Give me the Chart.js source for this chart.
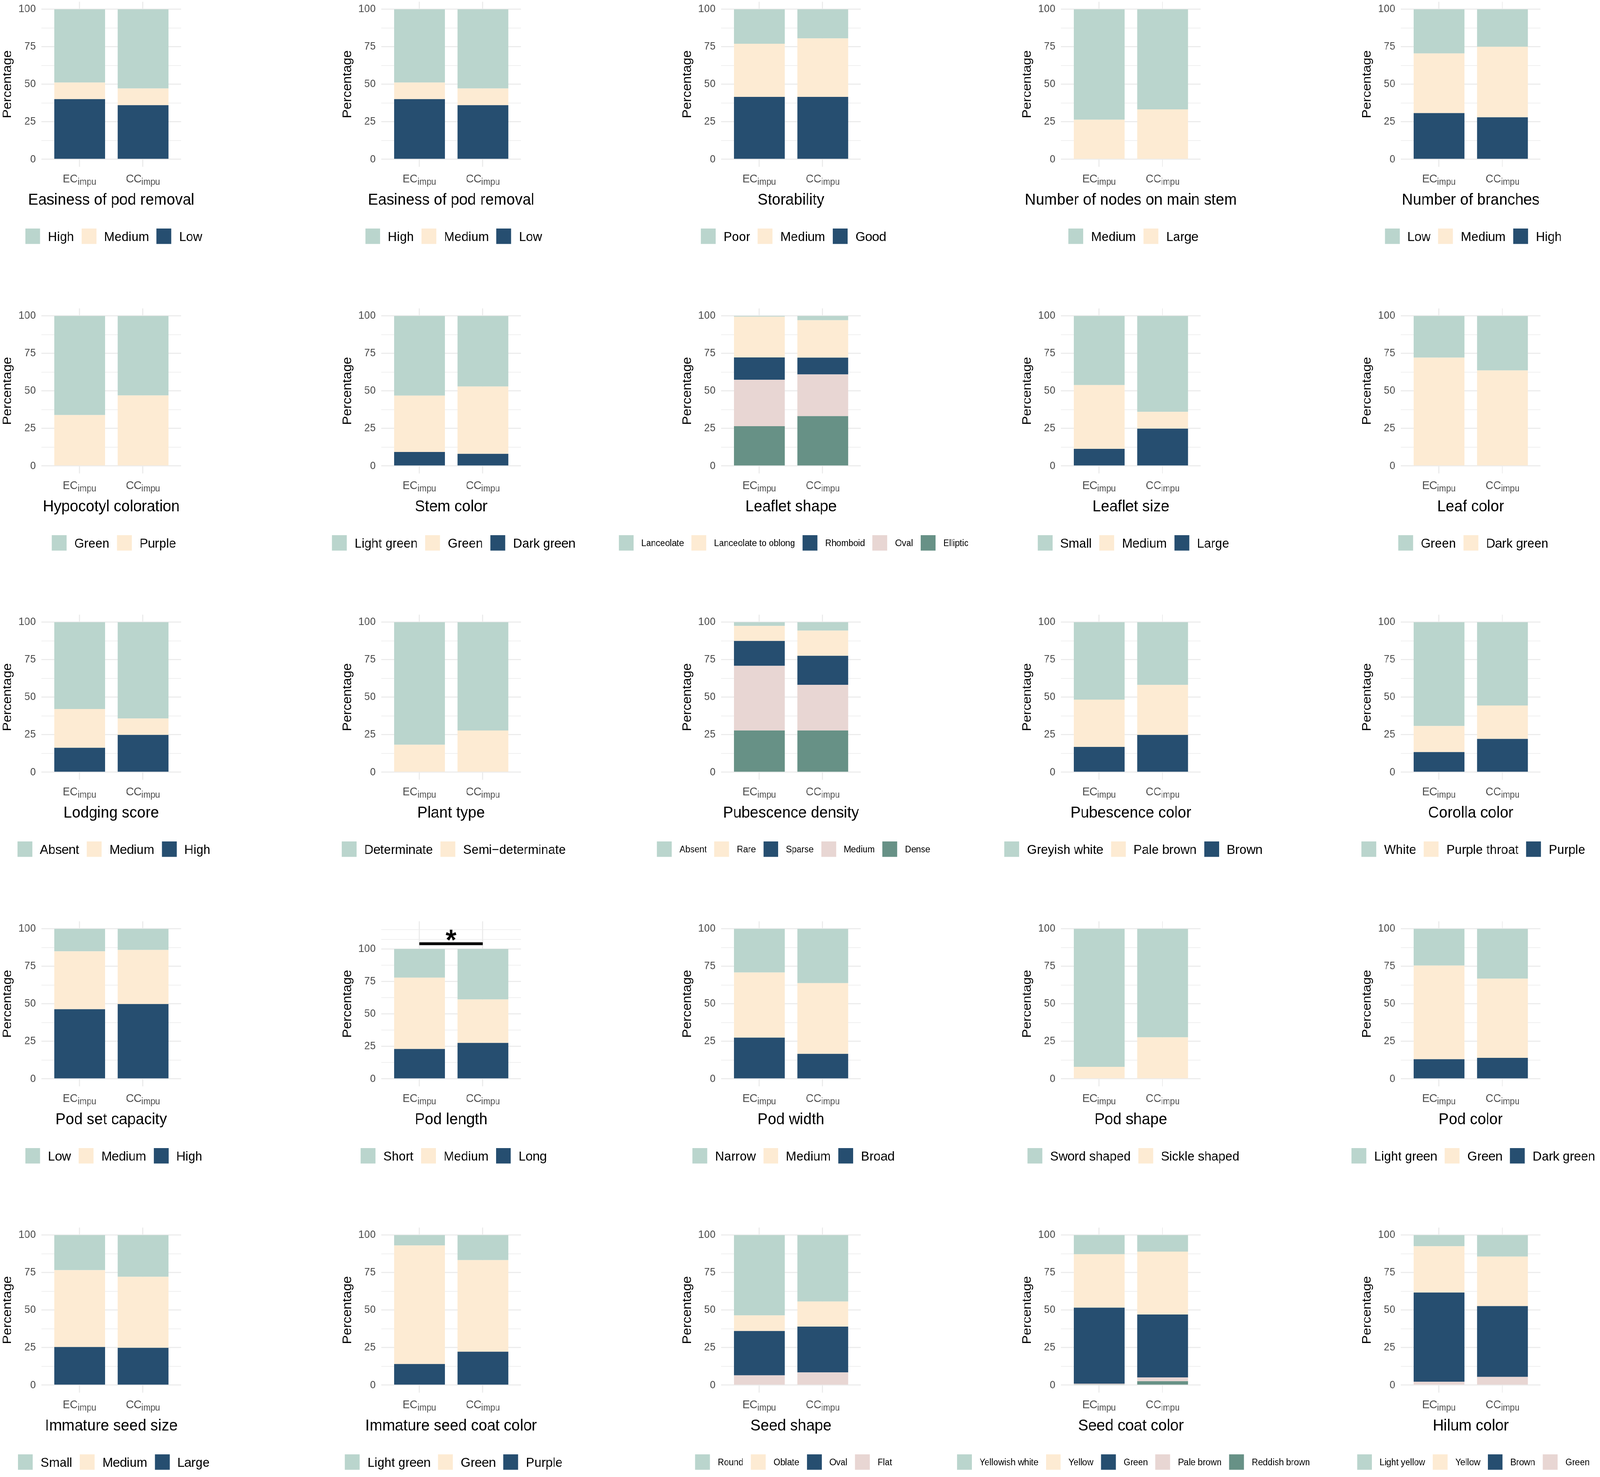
<!DOCTYPE html>
<html>
<head>
<meta charset="utf-8">
<script src="https://cdn.jsdelivr.net/npm/chart.js@4.4.1/dist/chart.umd.min.js"></script>
<style>
html,body{margin:0;padding:0;background:#ffffff;overflow:hidden;}
#wrap{position:absolute;left:0;top:0;width:4317px;height:3781px;overflow:hidden;background:#ffffff;transform-origin:0 0;}
canvas{position:absolute;}
</style>
</head>
<body>
<div id="wrap"></div>
<script>
// ---------------- DATA ----------------
const categories = ['EC', 'CC'];
const categorySub = 'impu';
const yTickValues = [0, 25, 50, 75, 100];

const titles = [
  'Easiness of pod removal', 'Easiness of pod removal', 'Storability', 'Number of nodes on main stem', 'Number of branches',
  'Hypocotyl coloration', 'Stem color', 'Leaflet shape', 'Leaflet size', 'Leaf color',
  'Lodging score', 'Plant type', 'Pubescence density', 'Pubescence color', 'Corolla color',
  'Pod set capacity', 'Pod length', 'Pod width', 'Pod shape', 'Pod color',
  'Immature seed size', 'Immature seed coat color', 'Seed shape', 'Seed coat color', 'Hilum color'
];

// legend order (top of the stack first)
const legendLabels = [
  ['High', 'Medium', 'Low'],
  ['High', 'Medium', 'Low'],
  ['Poor', 'Medium', 'Good'],
  ['Medium', 'Large'],
  ['Low', 'Medium', 'High'],
  ['Green', 'Purple'],
  ['Light green', 'Green', 'Dark green'],
  ['Lanceolate', 'Lanceolate to oblong', 'Rhomboid', 'Oval', 'Elliptic'],
  ['Small', 'Medium', 'Large'],
  ['Green', 'Dark green'],
  ['Absent', 'Medium', 'High'],
  ['Determinate', 'Semi\u2212determinate'],
  ['Absent', 'Rare', 'Sparse', 'Medium', 'Dense'],
  ['Greyish white', 'Pale brown', 'Brown'],
  ['White', 'Purple throat', 'Purple'],
  ['Low', 'Medium', 'High'],
  ['Short', 'Medium', 'Long'],
  ['Narrow', 'Medium', 'Broad'],
  ['Sword shaped', 'Sickle shaped'],
  ['Light green', 'Green', 'Dark green'],
  ['Small', 'Medium', 'Large'],
  ['Light green', 'Green', 'Purple'],
  ['Round', 'Oblate', 'Oval', 'Flat'],
  ['Yellowish white', 'Yellow', 'Green', 'Pale brown', 'Reddish brown'],
  ['Light yellow', 'Yellow', 'Brown', 'Green']
];

// percentages for EC_impu, same order as legendLabels
const ecValues = [
  [48.8, 11.1, 40.1],
  [48.8, 11.1, 40.1],
  [23.0, 35.4, 41.6],
  [73.6, 26.4],
  [29.4, 39.8, 30.8],
  [66.1, 33.9],
  [53.1, 37.6, 9.3],
  [0.5, 27.2, 14.9, 30.9, 26.5],
  [46.1, 42.5, 11.4],
  [27.8, 72.2],
  [57.9, 25.8, 16.3],
  [81.7, 18.3],
  [2.5, 10.0, 16.6, 43.1, 27.8],
  [51.6, 31.5, 16.9],
  [69.2, 17.4, 13.4],
  [15.0, 38.6, 46.4],
  [22.1, 54.9, 23.0],
  [29.1, 43.4, 27.5],
  [92.0, 8.0],
  [24.5, 62.4, 13.1],
  [23.4, 51.2, 25.4],
  [6.9, 79.0, 14.1],
  [53.5, 10.4, 29.6, 6.5],
  [12.8, 35.6, 50.6, 0.5, 0.5],
  [7.4, 30.9, 59.5, 2.2]
];

// percentages for CC_impu, same order as legendLabels
const ccValues = [
  [52.8, 11.1, 36.1],
  [52.8, 11.1, 36.1],
  [19.4, 39.0, 41.6],
  [66.7, 33.3],
  [25.0, 47.0, 28.0],
  [53.0, 47.0],
  [47.1, 44.8, 8.1],
  [2.9, 24.9, 11.2, 27.8, 33.2],
  [63.9, 11.2, 24.9],
  [36.3, 63.7],
  [64.2, 10.9, 24.9],
  [72.2, 27.8],
  [5.6, 16.8, 19.4, 30.4, 27.8],
  [41.8, 33.3, 24.9],
  [55.5, 22.3, 22.2],
  [14.1, 36.0, 49.9],
  [38.9, 33.4, 27.7],
  [36.2, 47.1, 16.7],
  [72.3, 27.7],
  [33.2, 52.8, 14.0],
  [27.8, 47.3, 24.9],
  [16.7, 61.0, 22.3],
  [44.3, 16.7, 30.5, 8.5],
  [11.0, 41.9, 42.0, 2.5, 2.6],
  [14.3, 33.0, 47.2, 5.5]
];

// significance annotation (Pod length)
const sigPanels = [16];
const sigLabel = '*';
const sigBarValue = 104.0;
const sigStarValue = 110.6;
const sigAxisTop = 115.5;
const sigExtraGrid = [107.5, 115];

// ---------------- STYLE / LAYOUT ----------------
const palette = ['#bad5cd', '#fdebd3', '#264e70', '#e8d6d3', '#679186'];
const smallLegendPanels = [7, 12, 22, 23, 24];
const FONT = '"Liberation Sans", Arial, Helvetica, sans-serif';
const FIG_W = 4317, FIG_H = 3781;
const COL_W = 917, ROW_H = 784.6, M = 250;
const PLOT_L = 111.7, PLOT_R = 488.6, AREA_TOP = 4.5, AREA_BOT = 427;

// fit the figure into the actual viewport
const wrap = document.getElementById('wrap');
const sx = Math.min(1, (window.innerWidth || FIG_W) / FIG_W);
const sy = Math.min(1, (window.innerHeight || FIG_H) / FIG_H);
wrap.style.transform = 'scale(' + sx + ',' + sy + ')';

function decor(idx) {
  return {
    id: 'decor',
    afterDraw(chart) {
      const ctx = chart.ctx, xs = chart.scales.x, ys = chart.scales.y, ca = chart.chartArea;
      const cx = (ca.left + ca.right) / 2;
      ctx.save();
      // x category labels with subscript
      ctx.textAlign = 'left';
      ctx.textBaseline = 'alphabetic';
      ctx.fillStyle = '#4d4d4d';
      categories.forEach((c, i) => {
        const px = xs.getPixelForValue(i + 1);
        ctx.font = '29px ' + FONT;
        const w1 = ctx.measureText(c).width;
        ctx.font = '23px ' + FONT;
        const w2 = ctx.measureText(categorySub).width;
        const x0 = px - (w1 + w2) / 2;
        ctx.font = '29px ' + FONT;
        ctx.fillText(c, x0, 466.5);
        ctx.font = '23px ' + FONT;
        ctx.fillText(categorySub, x0 + w1, 472.5);
      });
      // panel title
      ctx.fillStyle = '#000000';
      ctx.textAlign = 'center';
      ctx.font = '41px ' + FONT;
      ctx.fillText(titles[idx], cx, 524);
      // legend
      const fs = smallLegendPanels.includes(idx) ? 23.5 : 34;
      ctx.font = fs + 'px ' + FONT;
      ctx.textAlign = 'left';
      const labels = legendLabels[idx];
      const widths = labels.map(l => ctx.measureText(l).width);
      const total = widths.reduce((a, w) => a + 40 + 21 + w, 0) + 20.5 * (labels.length - 1);
      let x = cx + 7 - total / 2;
      labels.forEach((l, k) => {
        ctx.fillStyle = palette[k];
        ctx.fillRect(x, 585, 40, 39.5);
        ctx.fillStyle = '#000000';
        ctx.fillText(l, x + 61, 604.75 + 0.358 * fs);
        x += 40 + 21 + widths[k] + 20.5;
      });
      // significance bar
      if (sigPanels.includes(idx)) {
        const x1 = xs.getPixelForValue(1), x2 = xs.getPixelForValue(2);
        const yb = ys.getPixelForValue(sigBarValue);
        ctx.strokeStyle = '#000000';
        ctx.lineWidth = 7.3;
        ctx.lineCap = 'butt';
        ctx.beginPath();
        ctx.moveTo(x1, yb);
        ctx.lineTo(x2, yb);
        ctx.stroke();
        ctx.font = 'bold 74px ' + FONT;
        ctx.textAlign = 'center';
        const m = ctx.measureText(sigLabel);
        const yc = ys.getPixelForValue(sigStarValue);
        ctx.fillText(sigLabel, (x1 + x2) / 2, yc + (m.actualBoundingBoxAscent - m.actualBoundingBoxDescent) / 2);
      }
      ctx.restore();
    }
  };
}

titles.forEach((t, idx) => {
  const r = Math.floor(idx / 5), c = idx % 5;
  const W = Math.round(COL_W + 2 * M), H = 785;
  const cv = document.createElement('canvas');
  cv.width = W; cv.height = H;
  cv.style.width = W + 'px'; cv.style.height = H + 'px';
  cv.style.left = Math.round(c * COL_W - M) + 'px';
  cv.style.top = Math.round(r * ROW_H) + 'px';
  wrap.appendChild(cv);

  const labels = legendLabels[idx];
  const datasets = [];
  for (let k = labels.length - 1; k >= 0; k--) {
    datasets.push({
      label: labels[k],
      data: [{ x: 1, y: ecValues[idx][k] }, { x: 2, y: ccValues[idx][k] }],
      backgroundColor: palette[k],
      borderWidth: 0,
      barPercentage: 0.8,
      categoryPercentage: 1.0
    });
  }
  const isSig = sigPanels.includes(idx);
  const top = isSig ? sigAxisTop : 100;
  const yMin = -0.05 * top;
  const yMax = 1.05 * top;
  const gridVals = [0, 12.5, 25, 37.5, 50, 62.5, 75, 87.5, 100].concat(isSig ? sigExtraGrid : []);

  new Chart(cv, {
    type: 'bar',
    data: { datasets },
    options: {
      responsive: false,
      animation: false,
      devicePixelRatio: 1,
      events: [],
      layout: { padding: { left: M, right: W - M - PLOT_R, top: AREA_TOP, bottom: H - AREA_BOT } },
      plugins: { legend: { display: false }, tooltip: { enabled: false } },
      scales: {
        x: {
          type: 'linear', min: 0.4, max: 2.6, stacked: true, offset: false, bounds: 'data', grace: 0,
          afterBuildTicks(s) { s.ticks = [{ value: 1 }, { value: 2 }]; },
          afterFit(s) { s.height = 0; s.paddingLeft = 0; s.paddingRight = 0; },
          ticks: { display: false },
          grid: { color: '#ebebeb', lineWidth: 2.8, drawTicks: false, offset: false },
          border: { display: false }
        },
        y: {
          min: yMin, max: yMax, stacked: true,
          afterBuildTicks(s) { s.ticks = gridVals.map(v => ({ value: v })); },
          afterFit(s) { s.width = PLOT_L; s.paddingTop = 0; s.paddingBottom = 0; },
          ticks: {
            autoSkip: false, padding: 15, color: '#4d4d4d',
            font: { family: FONT, size: 28 },
            callback: (v) => yTickValues.includes(v) ? String(v) : ''
          },
          grid: {
            color: '#ebebeb', drawTicks: false,
            lineWidth: (ctx) => (ctx.tick && yTickValues.includes(ctx.tick.value)) ? 2.8 : 1.6
          },
          border: { display: false },
          title: { display: true, text: 'Percentage', color: '#000000', font: { family: FONT, size: 34 }, padding: 0 }
        }
      }
    },
    plugins: [decor(idx)]
  });
});
</script>
</body>
</html>
